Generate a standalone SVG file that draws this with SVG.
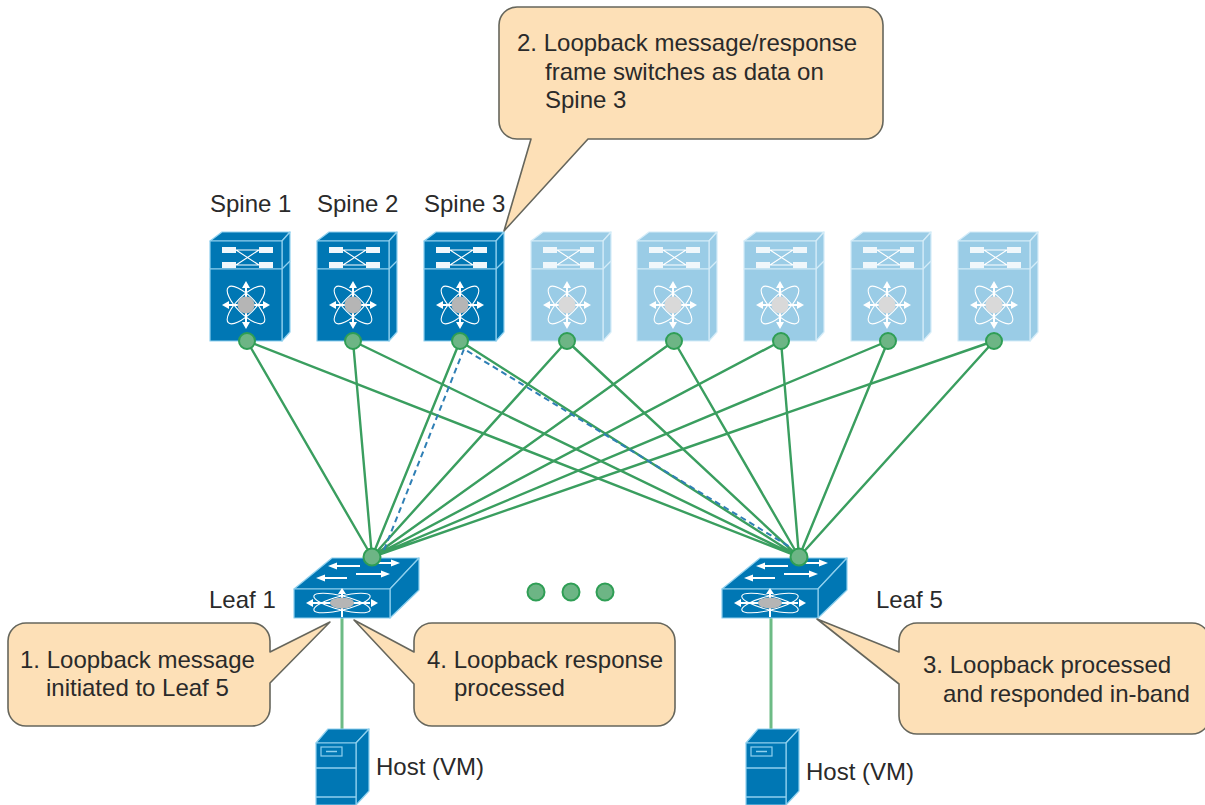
<svg xmlns="http://www.w3.org/2000/svg" width="1205" height="805" viewBox="0 0 1205 805">
<style>
text{font-family:"Liberation Sans",Arial,sans-serif;font-size:24px;fill:#2a2a2a}
.link{stroke:#3a9e5f;stroke-width:2.4;fill:none}
.drop{stroke:#6dbb85;stroke-width:3;fill:none}
.probe{stroke:#2f7fb5;stroke-width:2;stroke-dasharray:6 4;fill:none}
.port{fill:#6db585;stroke:#2f9e55;stroke-width:2}
.callout{fill:#fde0b7;stroke:#66665c;stroke-width:1.6;stroke-linejoin:round}
.edge{stroke:var(--e);stroke-width:1.2;stroke-linejoin:round}
.wl{stroke:#fff;stroke-width:1.1;fill:none}
.wa{stroke:#fff;stroke-width:2;fill:none}
.wf{fill:#fff;stroke:none}
.bar{fill:#f0f7fb;stroke:none}
.hub{fill:var(--h);stroke:none}
.dark{fill:#0077b4;--e:#8fd0ee;--h:#b5b5b5}
.light{fill:#9accE6;--e:#d4ecf8;--h:#d9d9d9}
</style>
<defs>
<g id="star">
<ellipse class="wl" rx="25" ry="9" transform="rotate(45)"/>
<ellipse class="wl" rx="25" ry="9" transform="rotate(-45)"/>
<path class="wa" d="M-18 0H18M0 -18V18"/>
<path class="wf" d="M-24 0l7 -4v8zM24 0l-7 -4v8zM0 -24l-4 7h8zM0 24l-4 -7h8z"/>
<circle class="hub" r="8.500"/>
</g>
<g id="spine">
<path class="edge" d="M0 9L12 0H80L72 9Z"/>
<path class="edge" d="M72 9L80 0V100L72 109Z"/>
<path class="edge" fill="none" d="M72 37L80 29"/>
<rect class="edge" x="0" y="9" width="72" height="28"/>
<rect class="edge" x="0" y="37" width="72" height="72"/>
<rect class="bar" x="12" y="15" width="14" height="6"/>
<rect class="bar" x="49" y="15" width="14" height="6"/>
<rect class="bar" x="12" y="30" width="14" height="6"/>
<rect class="bar" x="49" y="30" width="14" height="6"/>
<path class="wl" d="M26 18H49M26 33H49M26 18L49 33M26 33L49 18"/>
<use href="#star" x="36" y="73"/>
</g>
<g id="leaf">
<path class="edge" d="M0 31L38 0H125L96 31Z"/>
<path class="edge" d="M96 31L125 0V32L96 60Z"/>
<rect class="edge" x="0" y="31" width="96" height="29"/>
<path class="wa" d="M28 20H53M40 8H66M62 16H90M74 5H100"/>
<path class="wf" d="M22 20l9 -3.500v7zM34 8l9 -3.500v7zM96 16l-9 -3.500v7zM106 5l-9 -3.500v7z"/>
<ellipse class="wl" cx="48" cy="45" rx="29" ry="7" transform="rotate(14 48 45)"/>
<ellipse class="wl" cx="48" cy="45" rx="29" ry="7" transform="rotate(-14 48 45)"/>
<path class="wa" d="M18 45H76M48 35V59"/>
<path class="wf" d="M12 45l7 -4v8zM84 45l-7 -4v8zM48 30l-4 6h8z"/>
<ellipse class="hub" cx="48" cy="45" rx="12" ry="5.500"/>
</g>
<g id="host">
<path class="edge" d="M0 14L12 0H53L40 14Z"/>
<path class="edge" d="M40 14L53 0V62L40 76Z"/>
<rect class="edge" x="0" y="14" width="40" height="62"/>
<rect x="5" y="18" width="21" height="9" fill="none" stroke="#8fd0ee" stroke-width="1.200"/>
<path d="M10 22.500H21" stroke="#8fd0ee" stroke-width="1.500"/>
<path d="M0 39H40M0 68H40" stroke="#8fd0ee" stroke-width="1.500"/>
</g>
</defs>

<g id="connectors">
<path class="link" d="M247 341L372 557M353 341L372 557M460 341L372 557M567 341L372 557M674 341L372 557M781 341L372 557M888 341L372 557M994 341L372 557"/>
<path class="link" d="M247 341L799 557M353 341L799 557M460 341L799 557M567 341L799 557M674 341L799 557M781 341L799 557M888 341L799 557M994 341L799 557"/>
<path class="probe" d="M384 550L464 349L790 547"/>
<path class="drop" d="M342 618V729M771 618V729"/>
</g>

<g id="spine1" class="dark"><use href="#spine" x="210" y="232"/><circle class="port" cx="247" cy="341" r="8"/></g>
<g id="spine2" class="dark"><use href="#spine" x="317" y="232"/><circle class="port" cx="353" cy="341" r="8"/></g>
<g id="spine3" class="dark"><use href="#spine" x="424" y="232"/><circle class="port" cx="460" cy="341" r="8"/></g>
<g id="spine4" class="light"><use href="#spine" x="531" y="232"/><circle class="port" cx="567" cy="341" r="8"/></g>
<g id="spine5" class="light"><use href="#spine" x="637" y="232"/><circle class="port" cx="674" cy="341" r="8"/></g>
<g id="spine6" class="light"><use href="#spine" x="744" y="232"/><circle class="port" cx="781" cy="341" r="8"/></g>
<g id="spine7" class="light"><use href="#spine" x="851" y="232"/><circle class="port" cx="888" cy="341" r="8"/></g>
<g id="spine8" class="light"><use href="#spine" x="958" y="232"/><circle class="port" cx="994" cy="341" r="8"/></g>
<g id="spine-labels">
<text x="210" y="212">Spine 1</text>
<text x="317" y="212">Spine 2</text>
<text x="424" y="212">Spine 3</text>
</g>

<g id="leaf1" class="dark"><use href="#leaf" x="294" y="558"/><circle class="port" cx="372" cy="557" r="8.500"/><text x="209" y="608">Leaf 1</text></g>
<g id="leaf5" class="dark"><use href="#leaf" x="722" y="558"/><circle class="port" cx="799" cy="557" r="8.500"/><text x="876" y="608">Leaf 5</text></g>
<g id="more-dots">
<circle class="port" cx="536" cy="592" r="8.500"/>
<circle class="port" cx="571" cy="592" r="8.500"/>
<circle class="port" cx="605" cy="592" r="8.500"/>
</g>
<g id="host1" class="dark"><use href="#host" x="316" y="729"/><text x="376" y="775">Host (VM)</text></g>
<g id="host2" class="dark"><use href="#host" x="746" y="729"/><text x="806" y="780">Host (VM)</text></g>

<g id="callout2">
<path class="callout" d="M517 7H865A18 18 0 0 1 883 25V121A18 18 0 0 1 865 139H588L504 231L531 139H517A18 18 0 0 1 499 121V25A18 18 0 0 1 517 7Z"/>
<text x="517" y="51">2. Loopback message/response</text>
<text x="545" y="80">frame switches as data on</text>
<text x="545" y="108">Spine 3</text>
</g>
<g id="callout1">
<path class="callout" d="M26 623H252A18 18 0 0 1 270 641V652L330 622L270 683V708A18 18 0 0 1 252 726H26A18 18 0 0 1 8 708V641A18 18 0 0 1 26 623Z"/>
<text x="20" y="668">1. Loopback message</text>
<text x="46" y="696">initiated to Leaf 5</text>
</g>
<g id="callout4">
<path class="callout" d="M432 623H657A18 18 0 0 1 675 641V708A18 18 0 0 1 657 726H432A18 18 0 0 1 414 708V684L354 620L414 652V641A18 18 0 0 1 432 623Z"/>
<text x="427" y="668">4. Loopback response</text>
<text x="454" y="696">processed</text>
</g>
<g id="callout3">
<path class="callout" d="M917 623H1192A18 18 0 0 1 1210 641V716A18 18 0 0 1 1192 734H917A18 18 0 0 1 899 716V684L817 619L899 652V641A18 18 0 0 1 917 623Z"/>
<text x="923" y="673">3. Loopback processed</text>
<text x="943" y="702">and responded in-band</text>
</g>
</svg>
